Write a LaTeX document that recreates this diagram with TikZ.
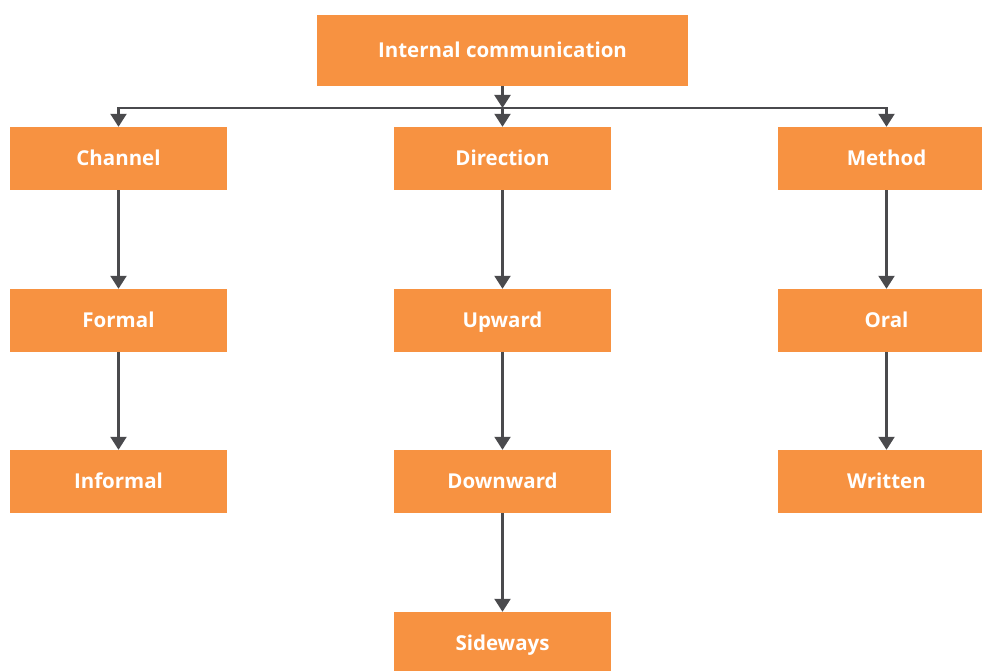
\documentclass[tikz,border=0pt]{standalone}
\usepackage{fontspec}
\setmainfont{Open Sans}
\usetikzlibrary{arrows.meta}
\definecolor{boxorange}{HTML}{F79241}
\definecolor{linegray}{HTML}{4A4A4D}
\tikzset{
  box/.style={fill=boxorange, text=white, font=\bfseries\fontsize{20.5}{24}\selectfont,
    minimum width=217pt, minimum height=63pt, inner sep=0pt,
    text height=14.6pt, text depth=0pt},
  link/.style={draw=linegray, line width=2.2pt, -{Triangle[width=16pt,length=13pt]}}
}
\begin{document}
\begin{tikzpicture}[x=1pt,y=-1pt]
      \useasboundingbox (0,0) rectangle (982,671);

      % Define the positions of the nodes
      \node[box, minimum width=371pt, minimum height=71pt] (top) at (502.5,50.5) {Internal communication};

      \node[box] (channel) at (118.5,158.5) {Channel};
      \node[box] (direction) at (502.5,158.5) {Direction};
      \node[box] (method) at (886.5,158.5) {Method};

      \node[box] (formal) at (118.5,320.5) {Formal};
      \node[box] (informal) at (118.5,481.5) {Informal};

      \node[box] (upward) at (502.5,320.5) {Upward};
      \node[box] (downward) at (502.5,481.5) {Downward};
      \node[box] (sideways) at (502.5,643.5) {Sideways};

      \node[box] (oral) at (886.5,320.5) {Oral};
      \node[box] (written) at (886.5,481.5) {Written};

      \coordinate (bar) at (502.5,108);

      % Draw the edges
      \draw[link] (top) -- (bar);
      \draw[link] (bar) -| (channel);
      \draw[link] (bar) -- (direction);
      \draw[link] (bar) -| (method);

      \draw[link] (channel) -- (formal);
      \draw[link] (formal) -- (informal);

      \draw[link] (direction) -- (upward);
      \draw[link] (upward) -- (downward);
      \draw[link] (downward) -- (sideways);

      \draw[link] (method) -- (oral);
      \draw[link] (oral) -- (written);
  \end{tikzpicture}
\end{document}
